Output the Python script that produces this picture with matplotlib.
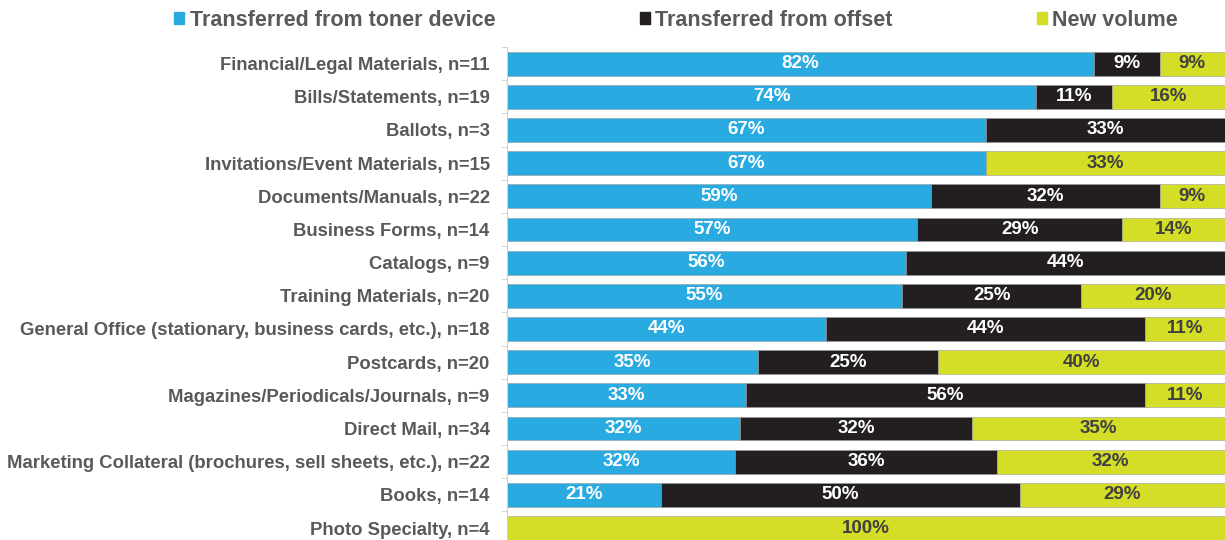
import matplotlib.pyplot as plt
from matplotlib.patches import Patch

categories = [
    "Financial/Legal Materials, n=11",
    "Bills/Statements, n=19",
    "Ballots, n=3",
    "Invitations/Event Materials, n=15",
    "Documents/Manuals, n=22",
    "Business Forms, n=14",
    "Catalogs, n=9",
    "Training Materials, n=20",
    "General Office (stationary, business cards, etc.), n=18",
    "Postcards, n=20",
    "Magazines/Periodicals/Journals, n=9",
    "Direct Mail, n=34",
    "Marketing Collateral (brochures, sell sheets, etc.), n=22",
    "Books, n=14",
    "Photo Specialty, n=4",
]
toner = [81.8, 73.7, 66.7, 66.7, 59.1, 57.1, 55.6, 55.0, 44.4, 35.0, 33.3, 32.4, 31.8, 21.4, 0]
offset = [9.1, 10.6, 33.3, 0, 31.8, 28.6, 44.4, 25.0, 44.4, 25.0, 55.6, 32.4, 36.4, 50.0, 0]
new_vol = [9.1, 15.7, 0, 33.3, 9.1, 14.3, 0, 20.0, 11.2, 40.0, 11.1, 35.2, 31.8, 28.6, 100.0]
series_names = ["Transferred from toner device", "Transferred from offset", "New volume"]

blue = "#29ABE2"
black = "#231F20"
lime = "#D4DE27"
grey_txt = "#595959"

plt.rcParams["font.family"] = ["Liberation Sans", "DejaVu Sans"]

fig = plt.figure(figsize=(12.25, 5.4), dpi=100)
ax = fig.add_axes([507 / 1225, -4.6 / 540, 1 - 507 / 1225, (540 - 47 + 4.6) / 540])

y = list(range(len(categories)))
left = [0] * len(categories)
for vals, col, tcol in [(toner, blue, "white"), (offset, black, "white"), (new_vol, lime, "#404040")]:
    bars = ax.barh(y, vals, left=left, height=0.72, color=col, edgecolor="#9a9a9a", linewidth=0.4)
    for b, v, l in zip(bars, vals, left):
        if v > 0:
            ax.text(l + v / 2, b.get_y() + b.get_height() / 2, f"{round(v)}%",
                    ha="center", va="center", color=tcol, fontsize=13.5, fontweight="bold")
    left = [a + b for a, b in zip(left, vals)]

ax.set_xlim(0, 100)
ax.set_ylim(len(categories) - 0.5, -0.5)
ax.set_yticks(y)
ax.set_yticklabels(categories, fontsize=13.3, fontweight="bold", color=grey_txt)
ax.set_yticks([i - 0.5 for i in range(len(categories) + 1)], minor=True)
ax.tick_params(axis="y", which="major", length=0, pad=12.5)
ax.tick_params(axis="y", which="minor", length=4, color="#d0d0d0")
ax.set_xticks([])
for s in ["top", "right", "bottom"]:
    ax.spines[s].set_visible(False)
ax.spines["left"].set_color("#d0d0d0")

handles = [Patch(color=c) for c in (blue, black, lime)]
fig.legend(handles, series_names, loc="center", bbox_to_anchor=(676 / 1225, 1 - 20 / 540),
           ncol=3, frameon=False, handlelength=0.47, handleheight=0.47, handletextpad=0.25,
           columnspacing=6.7, prop={"weight": "bold", "size": 15.5}, labelcolor=grey_txt)

fig.savefig("out.png", dpi=100)
